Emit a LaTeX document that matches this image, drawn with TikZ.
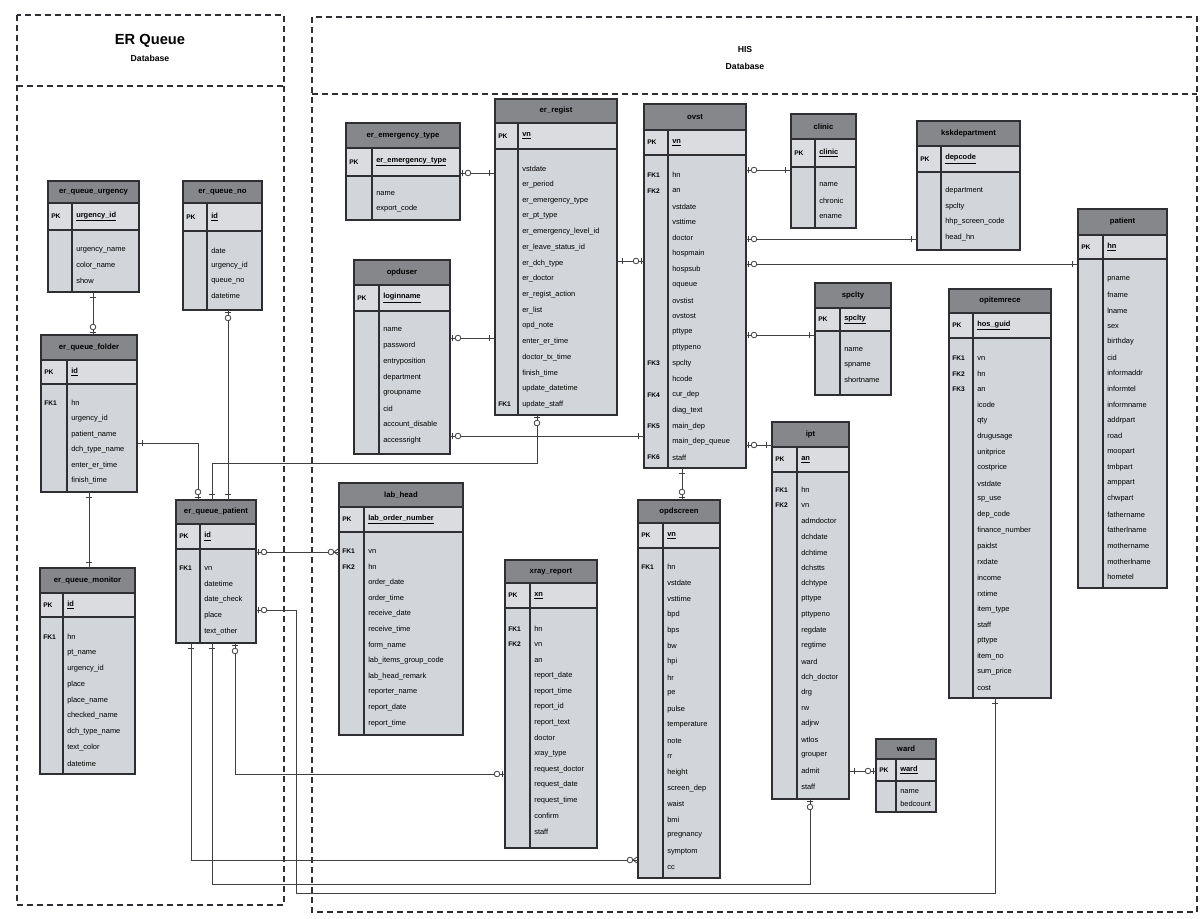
\documentclass[tikz,border=0pt]{standalone}
\usepackage{fontspec}
\setmainfont{Liberation Sans}
\usetikzlibrary{fit,decorations.markings}
\definecolor{headgray}{HTML}{86878A}
\definecolor{pkgray}{HTML}{DADCDF}
\definecolor{bodygray}{HTML}{D2D5DA}
\definecolor{inkline}{HTML}{2F2F33}
\tikzset{
  frame/.style={draw=inkline, line width=1.1pt, dash pattern=on 4.5pt off 3pt},
  tblline/.style={draw=inkline, line width=0.8pt},
  attr/.style={anchor=west, inner sep=0pt, font=\fontsize{5.6}{6}\selectfont},
  fklbl/.style={anchor=west, inner sep=0pt, font=\fontsize{5}{6}\selectfont\bfseries},
  titletext/.style={inner sep=0pt, font=\fontsize{5.8}{6}\selectfont\bfseries},
  conn/.style={draw=black!75, line width=0.6pt},
  barE/.style={postaction={decorate,decoration={markings,
      mark=at position -4pt with {\draw[line width=0.7pt] (0pt,-2.6pt)--(0pt,2.6pt);}}}},
  barS/.style={postaction={decorate,decoration={markings,
      mark=at position 4pt with {\draw[line width=0.7pt] (0pt,-2.6pt)--(0pt,2.6pt);}}}},
  circE/.style={postaction={decorate,decoration={markings,
      mark=at position -1.6pt with {\draw[line width=0.7pt] (0pt,-2.6pt)--(0pt,2.6pt);},
      mark=at position -5.8pt with {\draw[line width=0.6pt,fill=white] (0pt,0pt) circle (2.1pt);}}}},
  circS/.style={postaction={decorate,decoration={markings,
      mark=at position 1.6pt with {\draw[line width=0.7pt] (0pt,-2.6pt)--(0pt,2.6pt);},
      mark=at position 5.8pt with {\draw[line width=0.6pt,fill=white] (0pt,0pt) circle (2.1pt);}}}},
  crowE/.style={postaction={decorate,decoration={markings,
      mark=at position -0.05pt with {\draw[line width=0.6pt] (-3.5pt,0pt)--(0pt,2.6pt) (-3.5pt,0pt)--(0pt,-2.6pt);},
      mark=at position -5.8pt with {\draw[line width=0.6pt,fill=white] (0pt,0pt) circle (2.1pt);}}}},
}
% table frame: name, x1, x2, top, header bottom, key row bottom, bottom, column divider, title
\newcommand\ertable[9]{%
  \node[fit={(#2,#4)(#3,#7)}, inner sep=0pt] (#1) {};
  \fill[bodygray] (#2,#5) rectangle (#3,#7);
  \fill[pkgray] (#2,#5) rectangle (#3,#6);
  \fill[headgray] (#2,#4) rectangle (#3,#5);
  \draw[tblline] (#2,#4) rectangle (#3,#7);
  \draw[tblline] (#2,#5) -- (#3,#5) (#2,#6) -- (#3,#6) (#8,#5) -- (#8,#7);
  \node[titletext] at ({(#2+#3)/2},{(#4+#5)/2}) {#9};
}
% key row: x1, divider, header bottom, key row bottom, key
\newcommand\erpk[5]{%
  \node[fklbl] at (#1+3,{(#3+#4)/2}) {PK};
  \node[attr, font=\fontsize{5.6}{6}\selectfont\bfseries] at (#2+4,{(#3+#4)/2}) {\underline{#5}};
}
% attribute rows: x1, divider, first row y, row step, list of key/attribute
\newcommand\errows[5]{%
  \foreach \fk/\at [count=\i from 0] in {#5} {
    \node[fklbl] at (#1+3,#3+\i*#4) {\fk};
    \node[attr] at (#2+4,#3+\i*#4) {\at};
  }
}
\begin{document}
\catcode`\_=12
\begin{tikzpicture}[x=0.75pt,y=-0.75pt]
\useasboundingbox (0,0) rectangle (1204,919);
\fill[white] (0,0) rectangle (1204,919);

% database frames
\draw[frame] (17,15) rectangle (284,905);
\draw[frame] (17,86) -- (284,86);
\node[font=\fontsize{11}{12}\selectfont\bfseries] (erqt) at (150,41) {ER Queue};
\node[font=\fontsize{6.5}{7}\selectfont\bfseries] (erqd) at (150,58) {Database};
\draw[frame] (312,17) rectangle (1197,912);
\draw[frame] (312,94) -- (1197,94);
\node[font=\fontsize{6.5}{7}\selectfont\bfseries] (hist) at (745,50) {HIS};
\node[font=\fontsize{6.5}{7}\selectfont\bfseries] (hisd) at (745,66) {Database};

% ER queue tables
\ertable{urg}{48}{139}{181}{203}{230}{292}{72}{er_queue_urgency}
\erpk{48}{72}{203}{230}{urgency_id}
\errows{48}{72}{250}{15.5}{/urgency_name,/color_name,/show}

\ertable{qno}{183}{262}{181}{203}{231}{310}{207}{er_queue_no}
\erpk{183}{207}{203}{231}{id}
\errows{183}{207}{251}{15}{/date,/urgency_id,/queue_no,/datetime}

\ertable{fold}{41}{137}{335}{360}{384}{492}{67}{er_queue_folder}
\erpk{41}{67}{360}{384}{id}
\errows{41}{67}{403}{15.6}{FK1/hn,/urgency_id,/patient_name,/dch_type_name,/enter_er_time,/finish_time}

\ertable{mon}{40}{135}{568}{593}{617}{774}{63}{er_queue_monitor}
\erpk{40}{63}{593}{617}{id}
\errows{40}{63}{637}{15.8}{FK1/hn,/pt_name,/urgency_id,/place,/place_name,/checked_name,/dch_type_name,/text_color,/datetime}

\ertable{pat}{176}{256}{500}{524}{549}{643}{200}{er_queue_patient}
\erpk{176}{200}{524}{549}{id}
\errows{176}{200}{568}{16}{FK1/vn,/datetime,/date_check,/place,/text_other}

% HIS tables
\ertable{emt}{346}{460}{123}{148}{176}{220}{372}{er_emergency_type}
\erpk{346}{372}{148}{176}{er_emergency_type}
\errows{346}{372}{194}{15}{/name,/export_code}

\ertable{reg}{495}{617}{99}{123}{149}{415}{518}{er_regist}
\erpk{495}{518}{123}{149}{vn}
\errows{495}{518}{169}{15.7}{/vstdate,/er_period,/er_emergency_type,/er_pt_type,/er_emergency_level_id,/er_leave_status_id,/er_dch_type,/er_doctor,/er_regist_action,/er_list,/opd_note,/enter_er_time,/doctor_tx_time,/finish_time,/update_datetime,FK1/update_staff}

\ertable{opdu}{354}{450}{260}{285}{311}{454}{379}{opduser}
\erpk{354}{379}{285}{311}{loginname}
\errows{354}{379}{330}{15.8}{/name,/password,/entryposition,/department,/groupname,/cid,/account_disable,/accessright}

\ertable{ovst}{644}{746}{104}{130}{155}{468}{668}{ovst}
\erpk{644}{668}{130}{155}{vn}
\errows{644}{668}{175}{15.7}{FK1/hn,FK2/an,/vstdate,/vsttime,/doctor,/hospmain,/hospsub,/oqueue,/ovstist,/ovstost,/pttype,/pttypeno,FK3/spclty,/hcode,FK4/cur_dep,/diag_text,FK5/main_dep,/main_dep_queue,FK6/staff}

\ertable{clinic}{791}{856}{114}{139}{167}{228}{815}{clinic}
\erpk{791}{815}{139}{167}{clinic}
\errows{791}{815}{185}{16}{/name,/chronic,/ename}

\ertable{ksk}{917}{1020}{121}{146}{172}{250}{941}{kskdepartment}
\erpk{917}{941}{146}{172}{depcode}
\errows{917}{941}{191}{15.5}{/department,/spclty,/hhp_screen_code,/head_hn}

\ertable{patient}{1078}{1167}{209}{235}{259}{588}{1103}{patient}
\erpk{1078}{1103}{235}{259}{hn}
\errows{1078}{1103}{279}{15.7}{/pname,/fname,/lname,/sex,/birthday,/cid,/informaddr,/informtel,/informname,/addrpart,/road,/moopart,/tmbpart,/amppart,/chwpart,/fathername,/fatherlname,/mothername,/motherlname,/hometel}

\ertable{spc}{815}{891}{283}{308}{331}{395}{840}{spclty}
\erpk{815}{840}{308}{331}{spclty}
\errows{815}{840}{350}{15}{/name,/spname,/shortname}

\ertable{opi}{949}{1051}{289}{313}{338}{698}{973}{opitemrece}
\erpk{949}{973}{313}{338}{hos_guid}
\errows{949}{973}{358}{15.7}{FK1/vn,FK2/hn,FK3/an,/icode,/qty,/drugusage,/unitprice,/costprice,/vstdate,/sp_use,/dep_code,/finance_number,/paidst,/rxdate,/income,/rxtime,/item_type,/staff,/pttype,/item_no,/sum_price,/cost}

\ertable{ipt}{772}{849}{422}{447}{472}{799}{797}{ipt}
\erpk{772}{797}{447}{472}{an}
\errows{772}{797}{490}{15.6}{FK1/hn,FK2/vn,/admdoctor,/dchdate,/dchtime,/dchstts,/dchtype,/pttype,/pttypeno,/regdate,/regtime,/ward,/dch_doctor,/drg,/rw,/adjrw,/wtlos,/grouper,/admit,/staff}

\ertable{opds}{638}{720}{500}{523}{548}{878}{663}{opdscreen}
\erpk{638}{663}{523}{548}{vn}
\errows{638}{663}{567}{15.8}{FK1/hn,/vstdate,/vsttime,/bpd,/bps,/bw,/hpi,/hr,/pe,/pulse,/temperature,/note,/rr,/height,/screen_dep,/waist,/bmi,/pregnancy,/symptom,/cc}

\ertable{lab}{339}{463}{483}{507}{532}{735}{364}{lab_head}
\erpk{339}{364}{507}{532}{lab_order_number}
\errows{339}{364}{551}{15.7}{FK1/vn,FK2/hn,/order_date,/order_time,/receive_date,/receive_time,/form_name,/lab_items_group_code,/lab_head_remark,/reporter_name,/report_date,/report_time}

\ertable{xray}{505}{597}{560}{583}{608}{848}{530}{xray_report}
\erpk{505}{530}{583}{608}{xn}
\errows{505}{530}{629}{15.6}{FK1/hn,FK2/vn,/an,/report_date,/report_time,/report_id,/report_text,/doctor,/xray_type,/request_doctor,/request_date,/request_time,/confirm,/staff}

\ertable{ward}{876}{936}{739}{759}{781}{812}{896}{ward}
\erpk{876}{896}{759}{781}{ward}
\errows{876}{896}{792}{12}{/name,/bedcount}

% relationships inside the ER queue database
\draw[conn,barS,circE] (urg.south -| 93,0) -- (fold.north -| 93,0);
\draw[conn,circS,barE] (qno.south -| 228,0) -- (pat.north -| 228,0);
\draw[conn,barS,circE] (fold.east |- 0,443) -| (pat.north -| 198,0);
\draw[conn,barS,barE] (fold.south -| 89,0) -- (mon.north -| 89,0);

% relationships from the ER queue to HIS
\draw[conn,circS,barE] (reg.south -| 537,0) |- (212,463) -- (pat.north -| 212,0);
\draw[conn,circS,crowE] (pat.east |- 0,552) -- (lab.west |- 0,552);
\draw[conn,circS,barE] (pat.east |- 0,610) -| (296,893) -| (opi.south -| 995,0);
\draw[conn,barS,crowE] (pat.south -| 191,0) |- (opds.west |- 0,860);
\draw[conn,barS,circE] (pat.south -| 212,0) -- (212,884) -| (ipt.south -| 810,0);
\draw[conn,circS,circE] (pat.south -| 235,0) |- (xray.west |- 0,774);

% relationships inside HIS
\draw[conn,circS,barE] (emt.east |- 0,173) -- (reg.west |- 0,173);
\draw[conn,circS,barE] (opdu.east |- 0,338) -- (reg.west |- 0,338);
\draw[conn,circS,barE] (opdu.east |- 0,436) -- (ovst.west |- 0,436);
\draw[conn,barS,circE] (reg.east |- 0,261) -- (ovst.west |- 0,261);
\draw[conn,circS,barE] (ovst.east |- 0,170) -- (clinic.west |- 0,170);
\draw[conn,circS,barE] (ovst.east |- 0,239) -- (ksk.west |- 0,239);
\draw[conn,circS,barE] (ovst.east |- 0,264) -- (patient.west |- 0,264);
\draw[conn,circS,barE] (ovst.east |- 0,335) -- (spc.west |- 0,335);
\draw[conn,circS,barE] (ovst.east |- 0,445) -- (ipt.west |- 0,445);
\draw[conn,barS,circE] (ovst.south -| 682,0) -- (opds.north -| 682,0);
\draw[conn,barS,circE] (ipt.east |- 0,771) -- (ward.west |- 0,771);
\end{tikzpicture}
\end{document}
